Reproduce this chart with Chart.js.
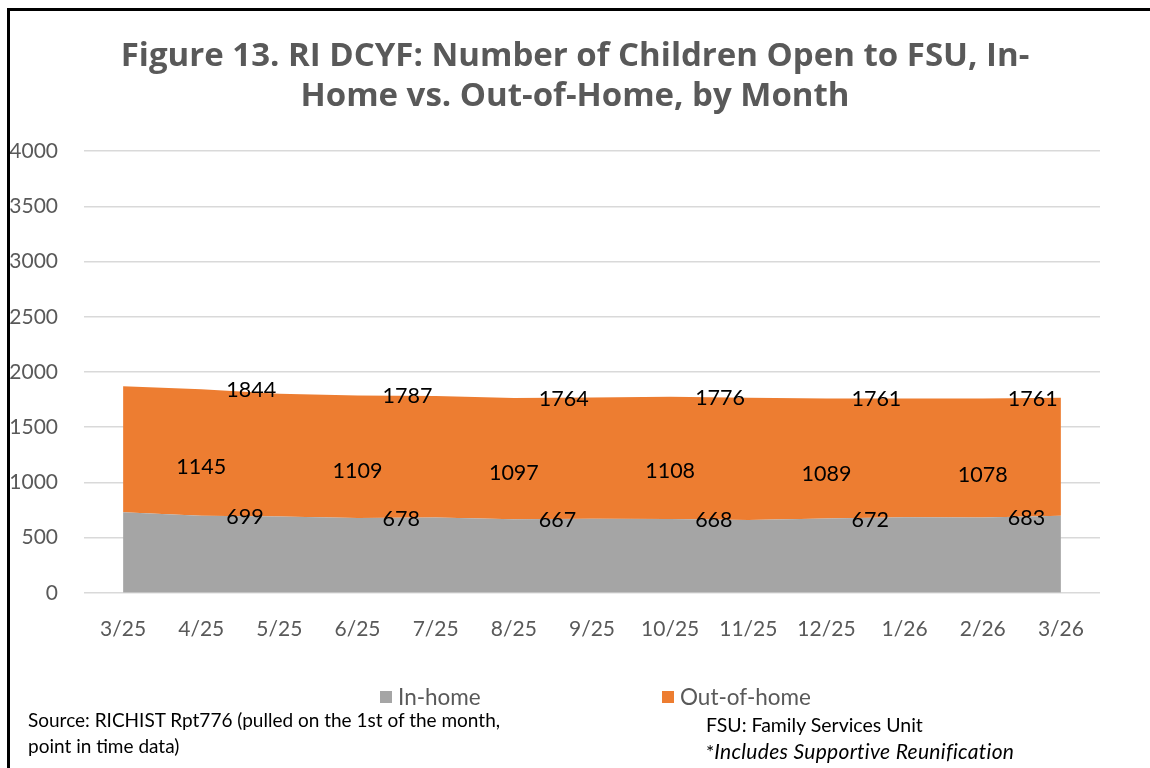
<!DOCTYPE html>
<html>
<head>
<meta charset="utf-8">
<script src="https://cdn.jsdelivr.net/npm/chart.js@4/dist/chart.umd.min.js"></script>
<style>
  body { margin: 0; background: #fff; font-family: Lato, sans-serif; }
  #wrap { position: relative; width: 1150px; height: 768px; overflow: hidden; }
  #frame { position: absolute; left: 7px; top: 8px; right: -10px; bottom: -10px;
           border-top: 3px solid #000; border-left: 3px solid #000; pointer-events: none; }
  .legend { position: absolute; top: 683px; font-size: 22.5px; color: #595959; display: flex; align-items: center; }
  .legend i { display: inline-block; width: 12px; height: 12px; margin-right: 6px; }
  .note { position: absolute; font-size: 19px; color: #000; line-height: 26px; }
</style>
</head>
<body>
<div id="wrap">
  <canvas id="chart" width="1150" height="768"></canvas>
  <div id="frame"></div>
  <div class="legend" style="left:380px"><i style="background:#a5a5a5"></i>In-home</div>
  <div class="legend" style="left:662px"><i style="background:#ed7d31"></i>Out-of-home</div>
  <div class="note" style="left:28px; top:707px">Source: RICHIST Rpt776 (pulled on the 1st of the month,<br>point in time data)</div>
  <div class="note" style="left:706px; top:712px; font-size:19.5px">FSU: Family Services Unit<br>*<i style="font-size:21px; letter-spacing:0.3px">Includes Supportive Reunification</i></div>
</div>
<script>
const months = ['3/25', '4/25', '5/25', '6/25', '7/25', '8/25', '9/25', '10/25', '11/25', '12/25', '1/26', '2/26', '3/26'];
const inHome    = [730, 699, 690, 678, 682, 667, 670, 668, 660, 672, 685, 683, 698];
const outOfHome = [1141, 1145, 1112, 1109, 1100, 1097, 1100, 1108, 1107, 1089, 1075, 1078, 1068];
// months that carry data labels in the original
const labeledIdx = [1, 3, 5, 7, 9, 11];
const yTicks = [0, 500, 1000, 1500, 2000, 2500, 3000, 3500, 4000];

const grey = '#595959';

// labels: out-of-home centred on the point, in-home and total just to the right
const valueLabels = {
  id: 'valueLabels',
  afterDatasetsDraw(chart) {
    const { ctx, scales: { x, y } } = chart;
    ctx.save();
    ctx.font = '21.5px Lato';
    ctx.fillStyle = '#000';
    ctx.textBaseline = 'middle';
    labeledIdx.forEach(i => {
      const px = x.getPixelForValue(i);
      const total = inHome[i] + outOfHome[i];
      ctx.textAlign = 'center';
      ctx.fillText(outOfHome[i], px, y.getPixelForValue(outOfHome[i]) + 1);
      ctx.textAlign = 'left';
      ctx.fillText(inHome[i], px + 25, y.getPixelForValue(inHome[i]) + 1);
      ctx.fillText(total, px + 25, y.getPixelForValue(total) + 1);
    });
    ctx.restore();
  }
};

new Chart(document.getElementById('chart'), {
  type: 'line',
  data: {
    labels: months,
    datasets: [
      { label: 'In-home', data: inHome, backgroundColor: '#a5a5a5', borderWidth: 0,
        fill: 'origin', pointRadius: 0, tension: 0 },
      { label: 'Out-of-home', data: outOfHome, backgroundColor: '#ed7d31', borderWidth: 0,
        fill: '-1', pointRadius: 0, tension: 0 }
    ]
  },
  options: {
    responsive: false,
    animation: false,
    layout: { padding: { left: 0, right: 0, top: 0, bottom: 110 } },
    plugins: {
      legend: { display: false },
      tooltip: { enabled: false },
      title: {
        display: true,
        text: ['Figure 13. RI DCYF: Number of Children Open to FSU, In-', 'Home vs. Out-of-Home, by Month'],
        color: grey,
        font: { family: 'Open Sans', size: 33, weight: 'bold', lineHeight: 1.2 },
        padding: { top: 37, bottom: 35 }
      }
    },
    scales: {
      x: {
        offset: true,
        grid: { display: false },
        border: { display: false },
        ticks: { color: grey, font: { family: 'Lato', size: 21 }, padding: 16, maxRotation: 0, autoSkip: false }
      },
      y: {
        stacked: true,
        min: 0,
        max: 4000,
        afterBuildTicks: s => { s.ticks = yTicks.map(v => ({ value: v })); },
        afterFit: s => { s.width = 84; },
        grid: { color: '#d9d9d9', lineWidth: 1.5, drawTicks: false },
        border: { display: false },
        ticks: { color: grey, font: { family: 'Lato', size: 21 }, padding: 26, callback: v => String(v) }
      },
      yRight: {
        position: 'right',
        afterFit: s => { s.width = 50; },
        grid: { display: false },
        border: { display: false },
        ticks: { display: false }
      }
    }
  },
  plugins: [valueLabels]
});
</script>
</body>
</html>
